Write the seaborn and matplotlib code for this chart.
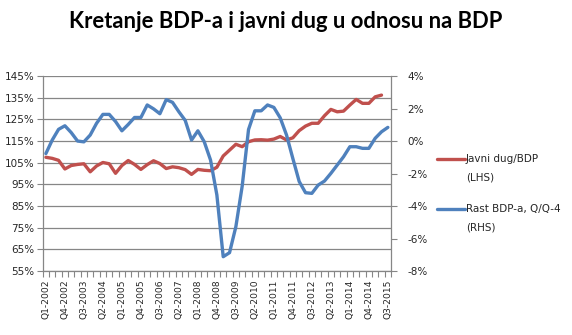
import numpy as np
import pandas as pd
import matplotlib
matplotlib.use("Agg")
import matplotlib.pyplot as plt
from matplotlib.lines import Line2D
import seaborn as sns

# ---------------- data ----------------
years = list(range(2002, 2016))
quarters = [f"Q{q}-{y}" for y in years for q in range(1, 5)][:55]  # Q1-2002 .. Q3-2015

debt_gdp = [107.5, 107.0, 106.1, 102.1, 103.7, 104.2, 104.5, 100.8, 103.5, 105.1,
            104.5, 100.1, 103.7, 106.0, 104.2, 101.9, 104.1, 105.9, 104.6, 102.3,
            103.1, 102.7, 101.8, 99.6, 101.9, 101.5, 101.3, 102.9, 108.1, 110.8,
            113.5, 112.4, 114.7, 115.5, 115.6, 115.4, 115.9, 117.1, 115.5, 116.5,
            119.8, 121.9, 123.2, 123.2, 126.7, 129.6, 128.5, 128.8, 131.6, 134.2,
            132.4, 132.4, 135.4, 136.2, np.nan]

gdp_growth = [-0.77, 0.06, 0.72, 0.94, 0.52, 0.00, -0.05, 0.37, 1.09, 1.64,
              1.64, 1.20, 0.63, 1.02, 1.45, 1.45, 2.22, 1.98, 1.68, 2.55,
              2.38, 1.80, 1.27, 0.06, 0.63, -0.04, -1.17, -3.32, -7.12, -6.87,
              -5.27, -2.77, 0.71, 1.86, 1.86, 2.22, 2.07, 1.43, 0.37, -1.08,
              -2.49, -3.18, -3.22, -2.71, -2.46, -1.99, -1.48, -0.97, -0.35, -0.35,
              -0.45, -0.45, 0.17, 0.57, 0.84]

left_ticks = list(range(55, 146, 10))
right_ticks = list(range(-8, 5, 2))
label_step = 3

title = "Kretanje BDP-a i javni dug u odnosu na BDP"
label_debt = ["Javni dug/BDP", "(LHS)"]
label_growth = ["Rast BDP-a, Q/Q-4", "(RHS)"]

# ---------------- style ----------------
sns.set_style("white")
plt.rcParams["font.family"] = ["DejaVu Sans"]

RED = "#C0504D"
BLUE = "#4F81BD"
GRID = "#868686"
TXT = "#262626"

df = pd.DataFrame({"idx": np.arange(len(quarters)), "q": quarters,
                   "debt": debt_gdp, "growth": gdp_growth})

fig = plt.figure(figsize=(5.72, 3.35), dpi=100)
ax = fig.add_axes([0.0747, 0.191, 0.6089, 0.582])
ax2 = ax.twinx()

sns.lineplot(data=df, x="idx", y="debt", ax=ax, color=RED, linewidth=2.4, legend=False)
sns.lineplot(data=df, x="idx", y="growth", ax=ax2, color=BLUE, linewidth=2.4, legend=False)

n = len(quarters)
ax.set_xlim(-0.5, n - 0.5)
ax.set_ylim(55, 145)
ax2.set_ylim(-8, 4)

# left axis
ax.set_yticks(left_ticks)
ax.set_yticklabels([f"{v}%" for v in left_ticks])
ax.yaxis.grid(True, color=GRID, linewidth=0.9)
ax.set_axisbelow(True)
ax.tick_params(axis="y", which="major", length=4, width=0.8, color=GRID,
               labelsize=7.5, labelcolor=TXT, pad=2)

# right axis
ax2.set_yticks(right_ticks)
ax2.set_yticklabels([f"{v}%" for v in right_ticks])
ax2.tick_params(axis="y", which="major", length=4, width=0.8, color=GRID,
                labelsize=7.5, labelcolor=TXT, pad=8)
ax2.grid(False)

# x axis
major = list(range(0, n, label_step))
ax.set_xticks(major)
ax.set_xticklabels([quarters[i] for i in major], rotation=90)
ax.set_xticks(np.arange(-0.5, n, 1.0), minor=True)
ax.tick_params(axis="x", which="major", length=0, labelsize=6.6, labelcolor=TXT, pad=6)
ax.tick_params(axis="x", which="minor", length=4, width=0.8, color=GRID, bottom=True)

for a in (ax, ax2):
    a.set_xlabel("")
    a.set_ylabel("")
    for s in a.spines.values():
        s.set_visible(False)
ax.spines["left"].set_visible(True)
ax.spines["bottom"].set_visible(True)
ax2.spines["right"].set_visible(True)
for a, s in ((ax, "left"), (ax, "bottom"), (ax2, "right")):
    a.spines[s].set_color(GRID)
    a.spines[s].set_linewidth(0.9)

# title
fig.text(0.5, 1 - 22 / 335, title, ha="center", va="center",
         fontsize=15.8, fontweight="bold", family=["Lato", "DejaVu Sans"], color="black")

# legend (manual)
W, H = 572, 335
for color, labels, ypx in ((RED, label_debt, 159), (BLUE, label_growth, 209)):
    fig.add_artist(Line2D([437 / W, 465 / W], [1 - ypx / H, 1 - ypx / H],
                          color=color, linewidth=2.4, transform=fig.transFigure))
    fig.text(466 / W, 1 - ypx / H, labels[0], ha="left", va="center",
             fontsize=7.5, color=TXT)
    fig.text(466 / W, 1 - (ypx + 18) / H, labels[1], ha="left", va="center",
             fontsize=7.5, color=TXT)

fig.savefig("out.png", dpi=100)
